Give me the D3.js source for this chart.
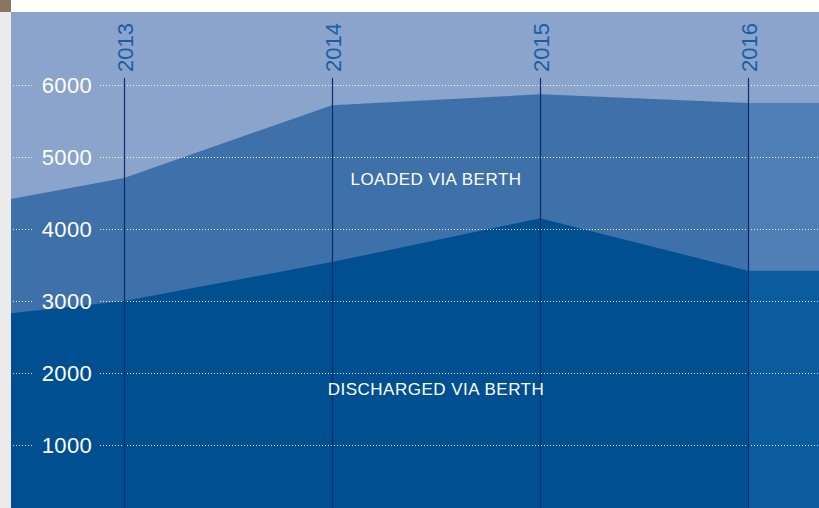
<!DOCTYPE html>
<html>
<head>
<meta charset="utf-8">
<script src="https://cdn.jsdelivr.net/npm/d3@7"></script>
<style>
  body { margin: 0; background: #fff; }
  svg { display: block; font-family: "Liberation Sans", Arial, sans-serif; }
</style>
</head>
<body>
<svg width="819" height="508"></svg>
<script>
// values (thousands of units per year)
const years = [2012, 2013, 2014, 2015, 2016, 2017];
const discharged = [2690, 3000, 3540, 4150, 3420, 3420];
const loaded = [1480, 1710, 2180, 1720, 2330, 2330];
const yTicks = [1000, 2000, 3000, 4000, 5000, 6000];
const yearLabels = ["2013", "2014", "2015", "2016"];
const bandLabels = ["LOADED VIA BERTH", "DISCHARGED VIA BERTH"];

const svg = d3.select("svg");
const W = 819, H = 508;
const padLeft = 11, padTop = 12;

// page frame: grey strip left, white strip top, small thumbnail corner
svg.append("rect").attr("x", 0).attr("y", 0).attr("width", padLeft).attr("height", H).attr("fill", "#ebebeb");
svg.append("rect").attr("x", 0).attr("y", 0).attr("width", padLeft).attr("height", padTop).attr("fill", "#8a7660");

const x = d3.scaleLinear().domain([2013, 2016]).range([124, 748]);
const y = d3.scaleLinear().domain([0, 6000]).range([517, 85]);

const data = years.map((yr, i) => ({ yr, d: discharged[i], t: discharged[i] + loaded[i] }));

const defs = svg.append("defs");
defs.append("clipPath").attr("id", "plot")
  .append("rect").attr("x", padLeft).attr("y", padTop).attr("width", W - padLeft).attr("height", H - padTop);

const g = svg.append("g").attr("clip-path", "url(#plot)");

g.append("rect").attr("x", padLeft).attr("y", padTop).attr("width", W - padLeft).attr("height", H - padTop)
  .attr("fill", "#8ba4cc");

const areaTotal = d3.area().x(d => x(d.yr)).y0(y(0)).y1(d => y(d.t));
const areaDis = d3.area().x(d => x(d.yr)).y0(y(0)).y1(d => y(d.d));

g.append("path").datum(data).attr("d", areaTotal).attr("fill", "#3e70a9");
g.append("path").datum(data).attr("d", areaDis).attr("fill", "#005091");

// lighter shading after the last year
defs.append("clipPath").attr("id", "after")
  .append("rect").attr("x", x(2016)).attr("y", padTop).attr("width", W - x(2016)).attr("height", H - padTop);
const g2 = g.append("g").attr("clip-path", "url(#after)");
g2.append("path").datum(data).attr("d", areaTotal).attr("fill", "#507fb6");
g2.append("path").datum(data).attr("d", areaDis).attr("fill", "#0b5c9f");

// dotted gridlines, broken around the labels
yTicks.forEach(v => {
  [[padLeft + 2, 34], [100, W]].forEach(([a, b]) => {
    g.append("line")
      .attr("x1", a).attr("x2", b)
      .attr("y1", y(v) + 0.5).attr("y2", y(v) + 0.5)
      .attr("stroke", "#fff").attr("stroke-opacity", 0.85)
      .attr("stroke-width", 1).attr("stroke-dasharray", "1,2");
  });
  g.append("text")
    .attr("x", 67).attr("y", y(v) + 8)
    .attr("text-anchor", "middle")
    .attr("fill", "#fff").attr("font-size", 22)
    .attr("letter-spacing", 0.4)
    .text(v);
});

// year lines and rotated labels
yearLabels.forEach(lbl => {
  const xx = Math.round(x(+lbl)) + 0.5;
  g.append("line")
    .attr("x1", xx).attr("x2", xx).attr("y1", 78).attr("y2", H)
    .attr("stroke", "#0c2a6c").attr("stroke-width", 1.2);
  g.append("text")
    .attr("transform", `translate(${xx + 8},72) rotate(-90)`)
    .attr("text-anchor", "start")
    .attr("fill", "#1a5ea6").attr("font-size", 22)
    .text(lbl);
});

// band labels
g.append("text").attr("x", 436).attr("y", 185).attr("text-anchor", "middle")
  .attr("fill", "#fff").attr("font-size", 17).attr("letter-spacing", 0.5).text(bandLabels[0]);
g.append("text").attr("x", 436).attr("y", 395).attr("text-anchor", "middle")
  .attr("fill", "#fff").attr("font-size", 17).attr("letter-spacing", 0.5).text(bandLabels[1]);
</script>
</body>
</html>
